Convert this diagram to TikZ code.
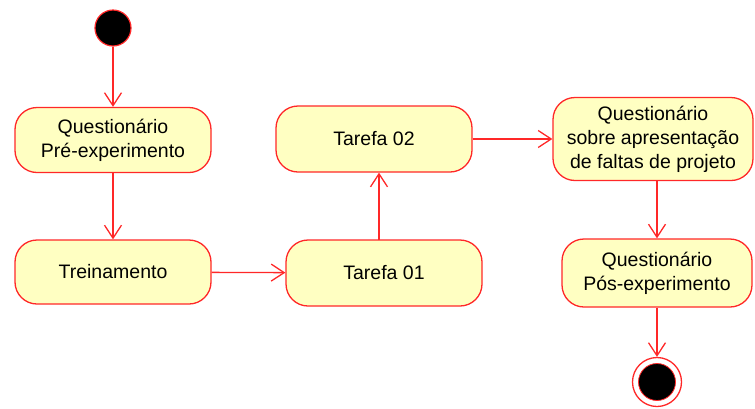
\documentclass[tikz,border=0pt]{standalone}
\usepackage{fontspec}
\setmainfont{Liberation Sans}
\usetikzlibrary{arrows.meta}
\definecolor{boxfill}{RGB}{255,255,194}
\definecolor{umlred}{RGB}{255,40,40}
\begin{document}
\begin{tikzpicture}[x=1pt,y=-1pt,
  act/.style={draw=umlred,fill=boxfill,line width=1.3pt,rounded corners=22pt,
    align=center,font=\fontsize{19.5}{24}\selectfont,inner sep=0pt},
  flow/.style={draw=umlred,line width=1.3pt,-{Straight Barb[length=13pt,width=17pt,line width=1.3pt]}},
  startdot/.style={circle,fill=black,draw=umlred,line width=1.2pt,minimum size=36pt,inner sep=0pt},
  enddot/.style={circle,fill=black,draw=umlred,line width=0.8pt,minimum size=37pt,inner sep=0pt},
  endring/.style={circle,draw=umlred,line width=1.3pt,minimum size=49pt,inner sep=0pt}]
\path[use as bounding box] (0,0) rectangle (755,408);
\node[startdot] (start) at (113,28) {};
\node[act,minimum width=196pt,minimum height=65pt] (q1) at (113,140) {Questionário\\Pré-experimento};
\node[act,minimum width=196pt,minimum height=64pt] (tr) at (113,272) {Treinamento};
\node[act,minimum width=196pt,minimum height=66pt] (t1) at (384,273) {Tarefa 01};
\node[act,minimum width=196pt,minimum height=66pt] (t2) at (374,139) {Tarefa 02};
\node[act,minimum width=200pt,minimum height=83pt] (q3) at (653,139) {Questionário\\sobre apresentação\\de faltas de projeto};
\node[act,minimum width=190pt,minimum height=68pt] (q4) at (657,273) {Questionário\\Pós-experimento};
\node[endring] (endr) at (657,382) {};
\node[enddot] (endc) at (657,382) {};
\draw[flow] (start) -- (q1);
\draw[flow] (q1) -- (tr);
\draw[flow] (tr) -- (t1);
\coordinate (up) at (379,240);
\draw[flow] (up) -- (up |- t2.south);
\draw[flow] (t2) -- (q3);
\draw[flow] (q3.south -| q4) -- (q4);
\draw[flow] (q4) -- (endr);
\end{tikzpicture}
\end{document}
